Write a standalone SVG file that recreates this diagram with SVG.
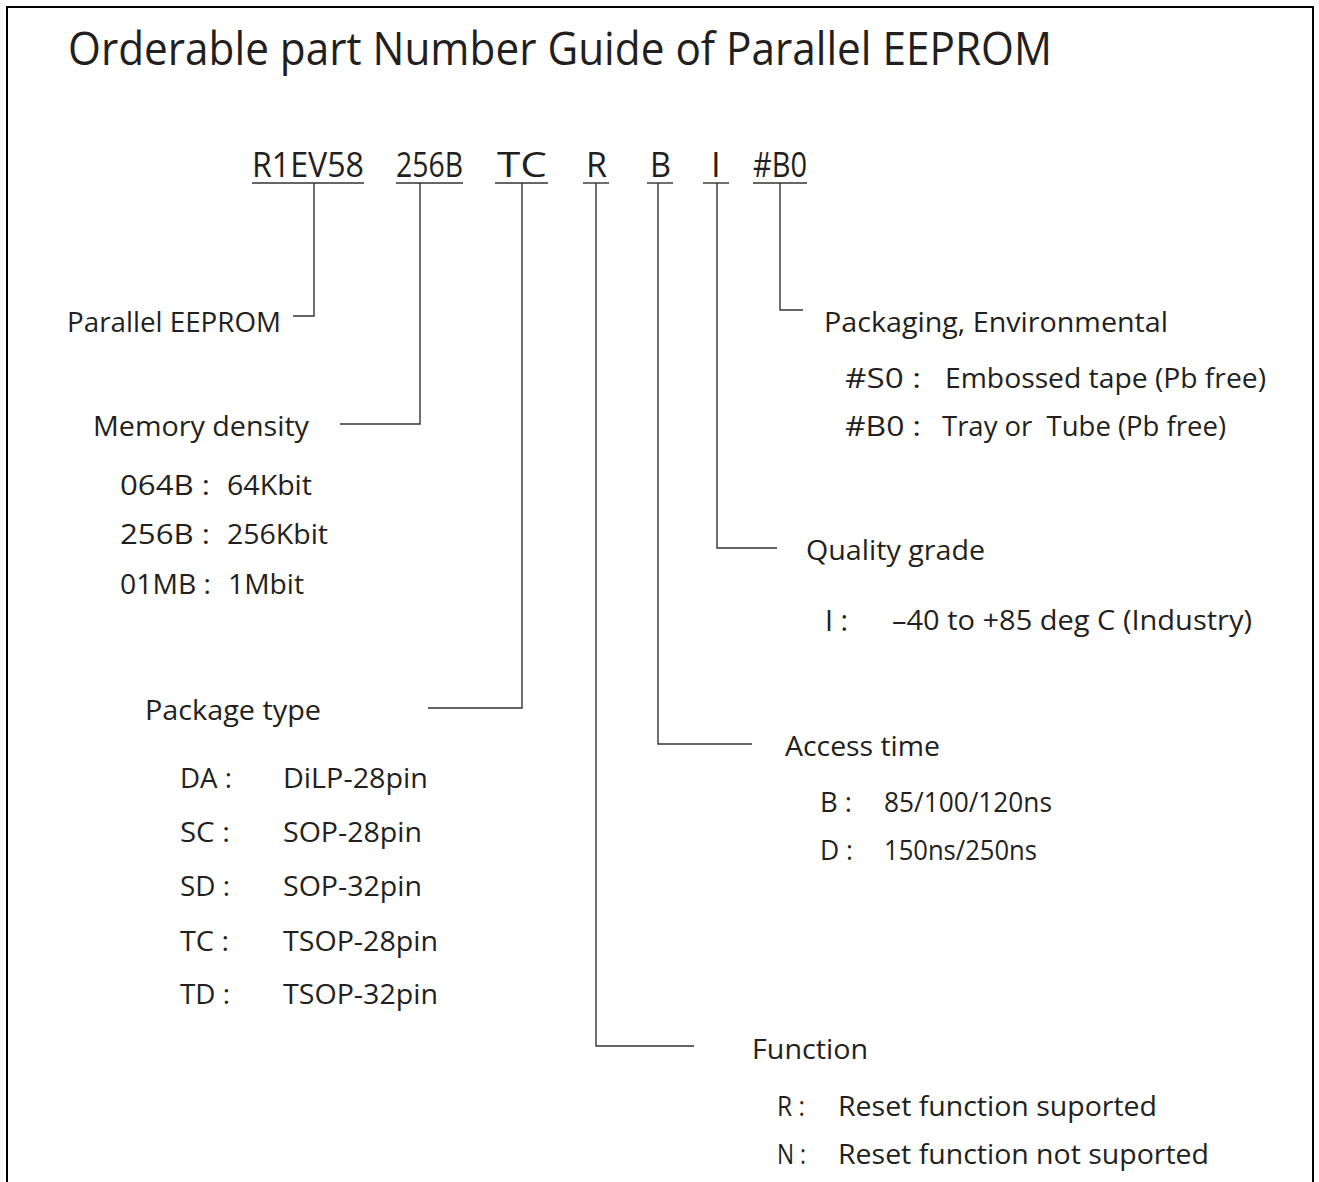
<svg xmlns="http://www.w3.org/2000/svg" width="1319" height="1182" viewBox="0 0 1319 1182">
<style>
text{font-family:"Open Sans","Noto Sans","Liberation Sans",sans-serif;fill:#231f20}
.title{font-size:46px}
.pn{font-size:35px}
.lbl{font-size:28px}
.conn line,.conn polyline{stroke:#333;stroke-width:1.4;fill:none}
</style>
<rect x="7" y="7" width="1306" height="1200" fill="#fff" stroke="#000" stroke-width="2"/>
<g id="title"><text class="title" x="68" y="65" textLength="984" lengthAdjust="spacingAndGlyphs">Orderable part Number Guide of Parallel EEPROM</text></g>
<g id="partnumber">
<text class="pn" x="252" y="177" textLength="112" lengthAdjust="spacingAndGlyphs">R1EV58</text>
<text class="pn" x="396" y="177" textLength="67" lengthAdjust="spacingAndGlyphs">256B</text>
<text class="pn" x="497" y="177" textLength="50" lengthAdjust="spacingAndGlyphs">TC</text>
<text class="pn" x="586" y="177" textLength="21" lengthAdjust="spacingAndGlyphs">R</text>
<text class="pn" x="650" y="177" textLength="21" lengthAdjust="spacingAndGlyphs">B</text>
<text class="pn" x="716" y="177" text-anchor="middle">I</text>
<text class="pn" x="753" y="177" textLength="54" lengthAdjust="spacingAndGlyphs">#B0</text>
</g>
<g class="conn" id="connectors">
<line x1="252" y1="183" x2="364" y2="183"/>
<line x1="396" y1="183" x2="463" y2="183"/>
<line x1="495" y1="183" x2="548" y2="183"/>
<line x1="583" y1="183" x2="609" y2="183"/>
<line x1="647" y1="183" x2="673" y2="183"/>
<line x1="703" y1="183" x2="729" y2="183"/>
<line x1="753" y1="183" x2="807" y2="183"/>
<polyline points="314,183 314,316 293,316"/>
<polyline points="420,183 420,424 340,424"/>
<polyline points="522,183 522,708 428,708"/>
<polyline points="596,183 596,1046 694,1046"/>
<polyline points="658,183 658,744 752,744"/>
<polyline points="717,183 717,548 777,548"/>
<polyline points="780,183 780,310 803,310"/>
</g>
<g id="node-parallel"><text class="lbl" x="67" y="332" textLength="214" lengthAdjust="spacingAndGlyphs">Parallel EEPROM</text></g>
<g id="node-memory">
<text class="lbl" x="93" y="436" textLength="216" lengthAdjust="spacingAndGlyphs">Memory density</text>
<text class="lbl" x="120" y="495" textLength="90" lengthAdjust="spacingAndGlyphs">064B :</text>
<text class="lbl" x="227" y="495" textLength="85" lengthAdjust="spacingAndGlyphs">64Kbit</text>
<text class="lbl" x="120" y="544" textLength="90" lengthAdjust="spacingAndGlyphs">256B :</text>
<text class="lbl" x="227" y="544" textLength="101" lengthAdjust="spacingAndGlyphs">256Kbit</text>
<text class="lbl" x="120" y="594" textLength="91" lengthAdjust="spacingAndGlyphs">01MB :</text>
<text class="lbl" x="228" y="594" textLength="76" lengthAdjust="spacingAndGlyphs">1Mbit</text>
</g>
<g id="node-package">
<text class="lbl" x="145" y="720" textLength="176" lengthAdjust="spacingAndGlyphs">Package type</text>
<text class="lbl" x="180" y="788" textLength="52" lengthAdjust="spacingAndGlyphs">DA :</text>
<text class="lbl" x="283" y="788" textLength="145" lengthAdjust="spacingAndGlyphs">DiLP-28pin</text>
<text class="lbl" x="180" y="842" textLength="50" lengthAdjust="spacingAndGlyphs">SC :</text>
<text class="lbl" x="283" y="842" textLength="139" lengthAdjust="spacingAndGlyphs">SOP-28pin</text>
<text class="lbl" x="180" y="896" textLength="50" lengthAdjust="spacingAndGlyphs">SD :</text>
<text class="lbl" x="283" y="896" textLength="139" lengthAdjust="spacingAndGlyphs">SOP-32pin</text>
<text class="lbl" x="180" y="951" textLength="49" lengthAdjust="spacingAndGlyphs">TC :</text>
<text class="lbl" x="283" y="951" textLength="155" lengthAdjust="spacingAndGlyphs">TSOP-28pin</text>
<text class="lbl" x="180" y="1004" textLength="50" lengthAdjust="spacingAndGlyphs">TD :</text>
<text class="lbl" x="283" y="1004" textLength="155" lengthAdjust="spacingAndGlyphs">TSOP-32pin</text>
</g>
<g id="node-packaging">
<text class="lbl" x="824" y="332" textLength="344" lengthAdjust="spacingAndGlyphs">Packaging, Environmental</text>
<text class="lbl" x="845" y="388" textLength="76" lengthAdjust="spacingAndGlyphs">#S0 :</text>
<text class="lbl" x="945" y="388" textLength="321" lengthAdjust="spacingAndGlyphs">Embossed tape (Pb free)</text>
<text class="lbl" x="845" y="436" textLength="76" lengthAdjust="spacingAndGlyphs">#B0 :</text>
<text class="lbl" x="942" y="436" textLength="284" lengthAdjust="spacingAndGlyphs" xml:space="preserve">Tray or  Tube (Pb free)</text>
</g>
<g id="node-quality">
<text class="lbl" x="806" y="560" textLength="179" lengthAdjust="spacingAndGlyphs">Quality grade</text>
<text class="lbl" x="825" y="631" textLength="23" lengthAdjust="spacingAndGlyphs" style="font-size:30px">I :</text>
<text class="lbl" x="892" y="630" textLength="360" lengthAdjust="spacingAndGlyphs">–40 to +85 deg C (Industry)</text>
</g>
<g id="node-access">
<text class="lbl" x="785" y="756" textLength="155" lengthAdjust="spacingAndGlyphs">Access time</text>
<text class="lbl" x="820" y="812" textLength="32" lengthAdjust="spacingAndGlyphs">B :</text>
<text class="lbl" x="884" y="812" textLength="168" lengthAdjust="spacingAndGlyphs">85/100/120ns</text>
<text class="lbl" x="820" y="860" textLength="33" lengthAdjust="spacingAndGlyphs">D :</text>
<text class="lbl" x="884" y="860" textLength="153" lengthAdjust="spacingAndGlyphs">150ns/250ns</text>
</g>
<g id="node-function">
<text class="lbl" x="752" y="1059" textLength="116" lengthAdjust="spacingAndGlyphs">Function</text>
<text class="lbl" x="777" y="1116" textLength="28" lengthAdjust="spacingAndGlyphs">R :</text>
<text class="lbl" x="838" y="1116" textLength="319" lengthAdjust="spacingAndGlyphs">Reset function suported</text>
<text class="lbl" x="777" y="1164" textLength="29" lengthAdjust="spacingAndGlyphs">N :</text>
<text class="lbl" x="838" y="1164" textLength="371" lengthAdjust="spacingAndGlyphs">Reset function not suported</text>
</g>
</svg>
